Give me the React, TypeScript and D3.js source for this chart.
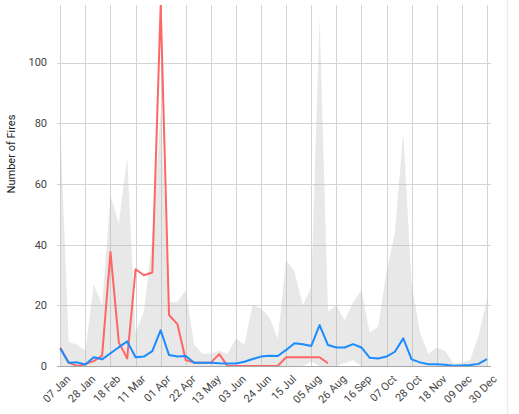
import { useRef, useEffect } from "react";
import * as d3 from "d3";

// weekly values, week 0 = 07 Jan ... week 51 = 30 Dec
const maxFires = [
  78, 8, 7, 5, 27, 20, 56, 47, 69, 11, 18, 42, 84, 21, 21, 25, 7, 4, 4, 5, 4,
  9, 7, 20, 19, 16, 9, 35, 31, 20, 26, 115, 18, 20, 15, 21, 25, 11, 13, 31, 44,
  77, 27, 11, 4, 6, 5, 1, 1, 2, 10, 22,
];
const minFires = [
  0, 0, 0, 0, 0, 0, 0, 0, 0, 0, 0, 0, 0, 0, 0, 0, 0, 0, 0, 0, 0, 0, 0, 0, 0, 0,
  0, 0, 0, 0, 1.5, 0, 0, 0, 1, 2, 0, 0, 0, 0, 0, 0, 0, 0, 0, 0, 0, 0, 0, 0, 0, 0,
];
const avgFires = [
  5.8, 1.1, 1.2, 0.5, 2.9, 2.2, 4.2, 6.2, 8.1, 2.9, 3.1, 4.9, 11.8, 3.6, 3.1,
  3.3, 1.1, 1.1, 1.1, 0.9, 0.8, 0.8, 1.4, 2.3, 3.1, 3.4, 3.3, 5.3, 7.5, 7.2, 6.6,
  13.5, 6.9, 6.1, 6.1, 7.2, 6.1, 2.7, 2.5, 3.1, 4.7, 9.1, 2.2, 1.2, 0.6, 0.6,
  0.4, 0.1, 0.2, 0.3, 0.7, 2.3,
];
const currentFires = [
  6, 1.1, 0, 0.6, 1.6, 3.4, 37.6, 7.7, 2.5, 31.9, 29.9, 30.8, 119, 16.8, 13.8,
  2, 1.1, 1.1, 1.1, 3.9, 0, 0, 0, 0, 0, 0, 0, 2.9, 2.9, 2.9, 2.9, 2.9, 0.9,
];
const tickLabels = [
  "07 Jan", "28 Jan", "18 Feb", "11 Mar", "01 Apr", "22 Apr", "13 May",
  "03 Jun", "24 Jun", "15 Jul", "05 Aug", "26 Aug", "16 Sep", "07 Oct",
  "28 Oct", "18 Nov", "09 Dec", "30 Dec",
];
const yTicks = [0, 20, 40, 60, 80, 100];

const W = 519;
const H = 414;

const App = () => {
  const svgRef = useRef<SVGSVGElement>(null);

  useEffect(() => {
    document.body.style.margin = "0";
    const svg = d3.select(svgRef.current);
    svg.selectAll("*").remove();

    const left = 57;
    const right = 491;
    const top = 5;
    const bottom = 366;

    const x = d3.scaleLinear().domain([0, 51]).range([60.3, 486.9]);
    const y = d3.scaleLinear().domain([0, 119]).range([bottom, top]);

    const font = "Roboto, 'Noto Sans', sans-serif";

    svg
      .append("defs")
      .append("clipPath")
      .attr("id", "plot")
      .append("rect")
      .attr("x", left)
      .attr("y", top)
      .attr("width", right - left)
      .attr("height", bottom - top);

    // gridlines
    const grid = svg.append("g").attr("stroke", "#d4d4d4").attr("stroke-width", 1);
    grid
      .selectAll("line.h")
      .data(yTicks.slice(1))
      .join("line")
      .attr("x1", left)
      .attr("x2", right)
      .attr("y1", (d) => Math.round(y(d)) + 0.5)
      .attr("y2", (d) => Math.round(y(d)) + 0.5);
    grid
      .selectAll("line.v")
      .data(tickLabels)
      .join("line")
      .attr("x1", (_, i) => Math.round(x(i * 3)) + 0.5)
      .attr("x2", (_, i) => Math.round(x(i * 3)) + 0.5)
      .attr("y1", top)
      .attr("y2", bottom);

    const plot = svg.append("g").attr("clip-path", "url(#plot)");

    // min-max band
    const band = d3
      .area<number>()
      .x((_, i) => x(i))
      .y0((_, i) => y(minFires[i]))
      .y1((d) => y(d));
    plot
      .append("path")
      .datum(maxFires)
      .attr("fill", "#b3b3b3")
      .attr("fill-opacity", 0.3)
      .attr("d", band);

    // baseline
    svg
      .append("line")
      .attr("x1", left)
      .attr("x2", right)
      .attr("y1", bottom + 0.5)
      .attr("y2", bottom + 0.5)
      .attr("stroke", "#a6a6a6");

    const line = d3
      .line<number>()
      .x((_, i) => x(i))
      .y((d) => y(d));

    plot
      .append("path")
      .datum(currentFires)
      .attr("fill", "none")
      .attr("stroke", "#ff6666")
      .attr("stroke-width", 2)
      .attr("stroke-linejoin", "round")
      .attr("d", line);

    plot
      .append("path")
      .datum(avgFires)
      .attr("fill", "none")
      .attr("stroke", "#1a8cff")
      .attr("stroke-width", 2)
      .attr("stroke-linejoin", "round")
      .attr("d", line);

    // y tick labels
    svg
      .append("g")
      .selectAll("text")
      .data(yTicks)
      .join("text")
      .attr("x", 47)
      .attr("y", (d) => y(d))
      .attr("dy", "0.35em")
      .attr("text-anchor", "end")
      .attr("fill", "#444")
      .style("font", `11px ${font}`)
      .text((d) => d);

    // x tick labels
    svg
      .append("g")
      .selectAll("text")
      .data(tickLabels)
      .join("text")
      .attr("transform", (_, i) => `translate(${x(i * 3) + 6},${bottom + 9}) rotate(-45)`)
      .attr("dy", "0.6em")
      .attr("text-anchor", "end")
      .attr("fill", "#444")
      .style("font", `11px ${font}`)
      .text((d) => d);

    // axis title
    svg
      .append("text")
      .attr("transform", `translate(15,154) rotate(-90)`)
      .attr("text-anchor", "middle")
      .attr("fill", "#222")
      .style("font", `11px ${font}`)
      .text("Number of Fires");

    // container edge
    svg
      .append("line")
      .attr("x1", 507.5)
      .attr("x2", 507.5)
      .attr("y1", 0)
      .attr("y2", H)
      .attr("stroke", "#ececec")
      .attr("stroke-width", 1.5);

    return () => {
      svg.selectAll("*").remove();
    };
  }, []);

  return (
    <svg
      ref={svgRef}
      width={W}
      height={H}
      style={{ display: "block", background: "#fff" }}
    ></svg>
  );
};

export default App;
